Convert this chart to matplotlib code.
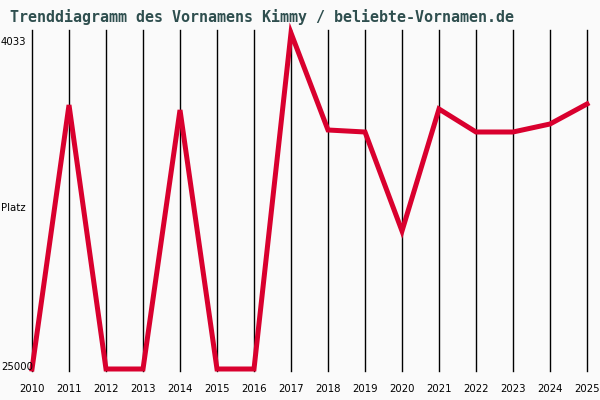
import numpy as np
from matplotlib import pyplot as plt

years = list(range(2010, 2026))
ranks = [25000, 8526, 25000, 25000, 8838, 25000, 25000, 4033,
         10086, 10211, 16388, 8776, 10211, 10211, 9712, 8463]
best_label = "4033"
worst_label = "25000"
title = "Trenddiagramm des Vornamens Kimmy / beliebte-Vornamen.de"

fig = plt.figure(figsize=(6, 4), dpi=100, facecolor='#fafafa')
# Achsenbereich in Pixeln: links 32, rechts 587, oben 30, unten 371
ax = fig.add_axes([32/600, (400-371)/400, 555/600, 341/400])
ax.set_facecolor('#fafafa')
for s in ax.spines.values():
    s.set_visible(False)

ax.set_xlim(2010, 2025)
ax.set_ylim(25125, 3846)

# vertikale Linien fuer jedes Jahr
for yr in years:
    ax.axvline(yr, color='black', lw=1, clip_on=False)

ax.plot(years, ranks, color='#d9002e', lw=3.6, solid_joinstyle='miter',
        clip_on=False, zorder=3)

ax.set_xticks(years)
ax.set_xticklabels([str(y) for y in years], fontsize=7.3, family='DejaVu Sans')
ax.tick_params(axis='x', length=0, pad=9)
ax.set_yticks([])

fig.text(1/600, 1 - 42/400, best_label, fontsize=7.3, va='center', ha='left')
fig.text(1/600, 1 - 208/400, "Platz", fontsize=7.3, va='center', ha='left')
fig.text(1/600, 1 - 367/400, worst_label, fontsize=7.3, va='center', ha='left')

fig.text(10/600, 1 - 17/400, title, fontsize=10.8, family='DejaVu Sans Mono',
         weight='bold', color='#2f4f4f', va='center', ha='left')

fig.savefig("out.png", dpi=100, facecolor=fig.get_facecolor())
